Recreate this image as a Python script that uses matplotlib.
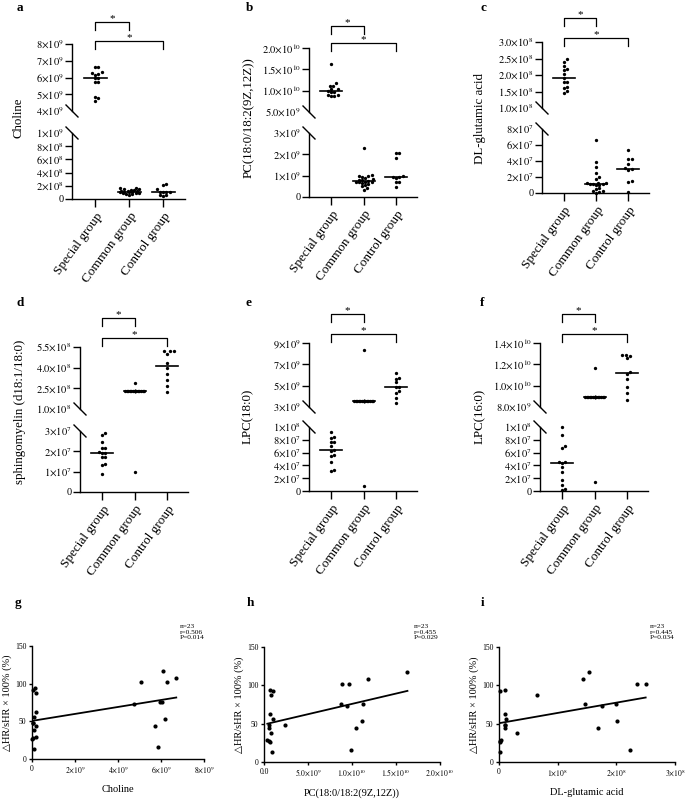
import numpy as np
import matplotlib
matplotlib.use('Agg')
import matplotlib.pyplot as plt
import matplotlib.transforms as mtransforms
from matplotlib.lines import Line2D

plt.rcParams['font.family'] = ['Liberation Serif', 'DejaVu Serif', 'DejaVu Sans']
plt.rcParams['mathtext.fontset'] = 'stix'

# ---------------- data ----------------
groups = ['Special group', 'Common group', 'Control group']

# a: Choline
special_a = [6.65e9, 6.65e9, 6.25e9, 6.2e9, 6.3e9, 6.0e9, 5.95e9, 6.15e9, 5.75e9, 5.75e9, 4.6e9, 4.85e9, 4.75e9]
common_a = [1.7e8, 1.6e8, 1.5e8, 1.45e8, 1.4e8, 1.3e8, 1.25e8, 1.2e8, 1.15e8, 1.1e8, 1.1e8, 1.05e8,
            1.0e8, 0.95e8, 0.9e8, 0.85e8, 0.8e8, 0.7e8, 0.6e8]
control_a = [2.2e8, 2.1e8, 1.5e8, 1.1e8, 1.1e8, 1.1e8, 1.05e8, 0.6e8, 0.6e8, 0.4e8]

# b: PC(18:0/18:2(9Z,12Z))
special_b = [1.63e10, 1.18e10, 1.12e10, 1.12e10, 1.05e10, 1.03e10, 1.0e10, 0.98e10, 0.97e10, 0.9e10,
             0.9e10, 0.88e10, 0.88e10]
common_b = [2.3e9, 1.05e9, 1.0e9, 1.0e9, 0.95e9, 0.9e9, 0.85e9, 0.8e9, 0.78e9, 0.75e9, 0.72e9, 0.72e9,
            0.7e9, 0.68e9, 0.65e9, 0.6e9, 0.55e9, 0.5e9, 0.4e9, 0.35e9]
control_b = [2.05e9, 2.05e9, 1.85e9, 1.0e9, 0.95e9, 0.92e9, 0.9e9, 0.7e9, 0.7e9, 0.45e9]

# c: DL-glutamic acid
special_c = [2.48e8, 2.4e8, 2.28e8, 2.17e8, 2.15e8, 2.04e8, 1.92e8, 1.8e8, 1.78e8, 1.64e8, 1.62e8, 1.52e8, 1.45e8]
common_c = [6.6e7, 3.9e7, 3.2e7, 2.5e7, 2.0e7, 1.7e7, 1.3e7, 1.2e7, 1.2e7, 1.15e7, 1.1e7, 1.1e7, 1.05e7,
            1.0e7, 0.6e7, 0.5e7, 0.3e7, 0.2e7, 0.1e7, 0.05e7]
control_c = [5.4e7, 4.2e7, 4.2e7, 3.6e7, 3.1e7, 3.0e7, 2.9e7, 1.5e7, 1.4e7, 0.1e7]

# d: sphingomyelin (d18:1/18:0)
special_d = [2.88e7, 2.8e7, 2.44e7, 2.17e7, 2.15e7, 1.96e7, 1.94e7, 1.93e7, 1.72e7, 1.7e7, 1.37e7, 1.35e7, 0.87e7]
common_d = [2.88e8, 2.34e8, 2.34e8, 2.34e8, 2.34e8, 2.34e8, 2.34e8, 2.34e8, 2.34e8, 2.34e8, 2.34e8,
            2.34e8, 2.34e8, 2.34e8, 2.34e8, 2.34e8, 2.34e8, 2.34e8, 2.34e8, 1.0e7]
control_d = [5.2e8, 5.2e8, 5.2e8, 5.0e8, 4.35e8, 3.95e8, 3.55e8, 3.1e8, 2.65e8, 2.2e8]

# e: LPC(18:0)
special_e = [9.2e7, 8.4e7, 8.3e7, 7.7e7, 7.6e7, 7.0e7, 6.4e7, 6.2e7, 5.6e7, 5.5e7, 4.6e7, 3.3e7, 3.1e7]
common_e = [8.38e9, 3.52e9, 3.52e9, 3.52e9, 3.52e9, 3.52e9, 3.52e9, 3.52e9, 3.52e9, 3.52e9, 3.52e9,
            3.52e9, 3.52e9, 3.52e9, 3.52e9, 3.52e9, 3.52e9, 3.52e9, 3.52e9, 0.8e7]
control_e = [6.2e9, 5.75e9, 5.65e9, 5.3e9, 4.9e9, 4.85e9, 4.5e9, 4.3e9, 3.8e9, 3.4e9]

# f: LPC(16:0)
special_f = [10.0e7, 8.8e7, 7.1e7, 6.7e7, 4.5e7, 4.5e7, 4.4e7, 3.8e7, 3.0e7, 1.7e7, 0.9e7, 0.3e7, 0.2e7]
common_f = [1.17e10, 8.92e9, 8.92e9, 8.92e9, 8.92e9, 8.92e9, 8.92e9, 8.92e9, 8.92e9, 8.92e9, 8.92e9,
            8.92e9, 8.92e9, 8.92e9, 8.92e9, 8.92e9, 8.92e9, 8.92e9, 8.92e9, 1.4e7]
control_f = [12.9e9, 12.9e9, 12.8e9, 12.6e9, 11.3e9, 11.1e9, 10.6e9, 9.9e9, 9.3e9, 8.7e9]

# g-i: correlation with heart-rate change (n=23)
hr_change = [117, 108, 102, 102, 94, 92, 87, 76, 76, 73, 63, 56, 53, 48, 48, 44, 44, 38, 29, 28, 26, 16, 13]
choline_x = [6.09e9, 6.71e9, 5.07e9, 6.29e9, 0.16e9, 0.05e9, 0.17e9, 5.95e9, 6.06e9, 4.74e9, 0.17e9, 0.10e9,
             6.20e9, 0.06e9, 0.04e9, 5.74e9, 0.20e9, 0.10e9, 0.17e9, 0.05e9, 0.02e9, 5.88e9, 0.10e9]
pc_x = [16.3e9, 11.8e9, 8.9e9, 9.64e9, 0.68e9, 0.99e9, 0.76e9, 8.8e9, 11.2e9, 9.4e9, 0.65e9, 0.99e9,
        11.1e9, 2.35e9, 0.53e9, 10.5e9, 0.57e9, 0.76e9, 0.38e9, 0.6e9, 0.72e9, 9.9e9, 0.91e9]
glu_x = [1.53e8, 1.43e8, 2.35e8, 2.5e8, 0.11e8, 0.01e8, 0.65e8, 1.47e8, 2.0e8, 1.75e8, 0.10e8, 0.125e8,
         2.01e8, 0.11e8, 0.10e8, 1.68e8, 0.11e8, 0.31e8, 0.03e8, 0.01e8, 0.02e8, 2.24e8, 0.01e8]
# regression lines (intercept, slope) as drawn
fit_g = (50.6, 4.62e-9)
fit_h = (48.9, 2.69e-9)
fit_i = (50.6, 1.34e-7)
stats_g = 'n=23\nr=0.506\nP=0.014'
stats_h = 'n=23\nr=0.455\nP=0.029'
stats_i = 'n=23\nr=0.445\nP=0.034'

# ---------------- figure ----------------
W, H = 685, 801
fig = plt.figure(figsize=(W / 100, H / 100), dpi=100)
XLIM = (-0.68, 2.64)


def to_fig(px, py):
    return px / W, 1 - py / H


def px_box(left, top, right, bottom):
    return [left / W, 1 - bottom / H, (right - left) / W, (bottom - top) / H]


def sci(v, dec=0):
    if v == 0:
        return '0' if dec == 0 else f'{0:.{dec}f}'
    e = int(np.floor(np.log10(v) + 1e-9))
    m = v / 10 ** e
    return rf'${m:.{dec}f}{{\times}}10^{{{e}}}$'


def slash(xp, yp, r=6):
    x0, y0 = to_fig(xp - r, yp - r)
    x1, y1 = to_fig(xp + r, yp + r)
    fig.add_artist(Line2D([x0, x1], [y0, y1], color='k', lw=1.0))


def swarm(ypx, d=3.2, maxw=11.0):
    ypx = np.asarray(ypx, float)
    xs = np.zeros(len(ypx))
    cands = [0.0]
    k = 1
    while k * d / 2 <= maxw:
        cands += [k * d / 2, -k * d / 2]
        k += 1
    placed = []
    for idx in np.argsort(ypx):
        best, best_md = None, -1
        for c in cands:
            md = min([np.hypot(c - px, ypx[idx] - py) for px, py in placed], default=99)
            if md >= d:
                best = c
                break
            if md > best_md:
                best, best_md = c, md
        xs[idx] = best
        placed.append((best, ypx[idx]))
    return xs


def dot_panel(letter, ylabel, data, up, lo, box, letter_xy, ylab_xy, br_tops):
    left, right, ut, ub, lt, lb = box
    ax_up = fig.add_axes(px_box(left, ut, right, ub))
    ax_lo = fig.add_axes(px_box(left, lt, right, lb))
    segs = [(ax_up, up, ut, ub), (ax_lo, lo, lt, lb)]
    for ax, (lim, ticks, dec), top, bot in segs:
        ax.set_xlim(XLIM)
        ax.set_ylim(lim)
        ax.set_yticks(ticks)
        ax.set_yticklabels([sci(t, dec) for t in ticks])
        ax.patch.set_visible(False)
        for s in ['top', 'right']:
            ax.spines[s].set_visible(False)
        for s in ['left', 'bottom']:
            ax.spines[s].set_linewidth(1.0)
        ax.tick_params(axis='y', length=5, width=1.0, labelsize=7.5, pad=1)
    ax_up.spines['bottom'].set_visible(False)
    ax_up.set_xticks([])
    ax_lo.set_xticks([0, 1, 2])
    ax_lo.set_xticklabels(groups, rotation=54, ha='right', rotation_mode='anchor', fontsize=9.5)
    ax_lo.tick_params(axis='x', length=6, width=1.0, pad=2)
    ax_up.yaxis.get_major_ticks()[0].tick1line.set_visible(False)
    ax_lo.yaxis.get_major_ticks()[-1].tick1line.set_visible(False)
    slash(left, ub)
    slash(left, lt)

    px_cat = (right - left) / (XLIM[1] - XLIM[0])
    for i, vals in enumerate(data):
        vals = np.asarray(vals, float)
        for ax, (lim, ticks, dec), top, bot in segs:
            span = lim[1] - lim[0]
            sel = vals[(vals >= lim[0] - 0.02 * span) & (vals <= lim[1] + 0.02 * span)]
            if len(sel) == 0:
                continue
            ypx = (sel - lim[0]) / span * (bot - top)
            xs = i + swarm(ypx) / px_cat
            ax.plot(xs, sel, 'o', ms=2.4, mew=0, color='k', clip_on=False)
            med = np.median(vals)
            if lim[0] <= med <= lim[1]:
                ax.plot([i - 0.34, i + 0.34], [med, med], color='k', lw=1.2, clip_on=False)

    trans = mtransforms.blended_transform_factory(ax_up.transData, fig.transFigure)
    for j, tp in zip([1, 2], br_tops):
        y_top = 1 - tp / H
        y_drop = 1 - (tp + 8) / H
        ax_up.add_line(Line2D([0, 0, j, j], [y_drop, y_top, y_top, y_drop], transform=trans,
                              color='k', lw=0.9, clip_on=False))
        ax_up.text(j / 2, 1 - (tp - 3.5) / H, '*', transform=trans, ha='center', va='center', fontsize=8)

    fig.text(*to_fig(*letter_xy), letter, fontsize=9.5, fontweight='bold', ha='center', va='center')
    fig.text(*to_fig(*ylab_xy), ylabel, fontsize=9.3, rotation=90, ha='center', va='center')


def corr_panel(letter, xv, fit, xlim, xticks, xdec, xzero, xlabel, stats, box, letter_xy, stats_xy):
    left, top, right, bottom = box
    ax = fig.add_axes(px_box(left, top, right, bottom))
    xv = np.asarray(xv, float)
    ax.scatter(xv, hr_change, s=9, color='k', linewidths=0, clip_on=False, zorder=3)
    xx = np.array([xv.min(), xv.max()])
    ax.plot(xx, fit[0] + fit[1] * xx, color='k', lw=1.3)
    ax.set_xlim(xlim)
    ax.set_ylim(0, 150)
    ax.set_xticks(xticks)
    ax.set_xticklabels([xzero if t == 0 else sci(t, xdec) for t in xticks])
    ax.set_yticks([0, 50, 100, 150])
    for s in ['top', 'right']:
        ax.spines[s].set_visible(False)
    for s in ['left', 'bottom']:
        ax.spines[s].set_linewidth(1.0)
    ax.tick_params(length=2.5, width=1.0, labelsize=5.5, pad=1.5)
    ax.set_xlabel(xlabel, fontsize=7.5, labelpad=7)
    ax.set_ylabel('△HR/sHR × 100% (%)', fontsize=7.5, labelpad=2)
    fig.text(*to_fig(*stats_xy), stats, fontsize=5.3, ha='left', va='top', linespacing=1.15)
    fig.text(*to_fig(*letter_xy), letter, fontsize=9.5, fontweight='bold', ha='center', va='center')


dot_panel('a', 'Choline', [special_a, common_a, control_a],
          ((4e9, 8e9), [4e9, 5e9, 6e9, 7e9, 8e9], 0),
          ((0, 1e9), [0, 2e8, 4e8, 6e8, 8e8, 1e9], 0),
          (72, 185, 44, 111, 133, 199), (20, 8), (18, 118), (22, 41))
dot_panel('b', 'PC(18:0/18:2(9Z,12Z))', [special_b, common_b, control_b],
          ((5e9, 2e10), [5e9, 1e10, 1.5e10, 2e10], 1),
          ((0, 3e9), [0, 1e9, 2e9, 3e9], 0),
          (309, 417, 48, 112, 133, 197), (250, 8), (249, 118), (26, 43))
dot_panel('c', 'DL-glutamic acid', [special_c, common_c, control_c],
          ((1e8, 3e8), [1e8, 1.5e8, 2e8, 2.5e8, 3e8], 1),
          ((0, 8e7), [0, 2e7, 4e7, 6e7, 8e7], 0),
          (542, 649, 42, 108, 129, 193), (483, 8), (480, 118), (18, 38))
dot_panel('d', 'sphingomyelin (d18:1/18:0)', [special_d, common_d, control_d],
          ((1e8, 5.5e8), [1e8, 2.5e8, 4e8, 5.5e8], 1),
          ((0, 3e7), [0, 1e7, 2e7, 3e7], 0),
          (80, 188, 347, 409, 431, 492), (20, 303), (20, 412), (318, 338))
dot_panel('e', 'LPC(18:0)', [special_e, common_e, control_e],
          ((3e9, 9e9), [3e9, 5e9, 7e9, 9e9], 0),
          ((0, 1e8), [0, 2e7, 4e7, 6e7, 8e7, 1e8], 0),
          (309, 417, 343, 407, 427, 491), (249, 303), (248, 416), (314, 334))
dot_panel('f', 'LPC(16:0)', [special_f, common_f, control_f],
          ((8e9, 1.4e10), [8e9, 1e10, 1.2e10, 1.4e10], 1),
          ((0, 1e8), [0, 2e7, 4e7, 6e7, 8e7, 1e8], 0),
          (540, 648, 343, 407, 427, 491), (482, 303), (480, 416), (314, 334))

corr_panel('g', choline_x, fit_g, (0, 8e9), [0, 2e9, 4e9, 6e9, 8e9], 0, '0', 'Choline', stats_g,
           (32, 646, 204, 759), (18, 603), (180, 624))
corr_panel('h', pc_x, fit_h, (0, 2e10), [0, 5e9, 1e10, 1.5e10, 2e10], 1, '0.0', 'PC(18:0/18:2(9Z,12Z))',
           stats_h, (264, 647, 440, 762), (250, 603), (414, 624))
corr_panel('i', glu_x, fit_i, (0, 3e8), [0, 1e8, 2e8, 3e8], 0, '0', 'DL-glutamic acid', stats_i,
           (499, 647, 675, 762), (483, 603), (650, 624))

fig.savefig('out.png', dpi=100)
